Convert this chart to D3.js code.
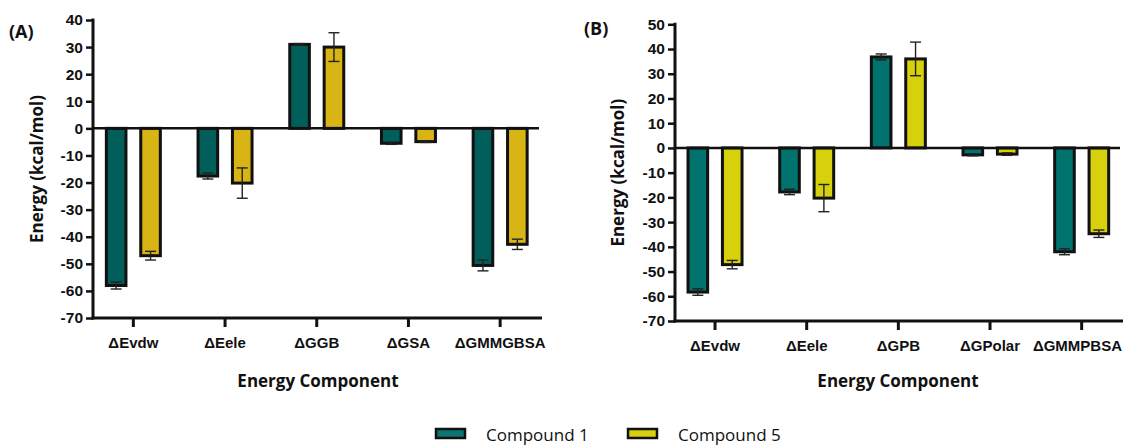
<!DOCTYPE html>
<html>
<head>
<meta charset="utf-8">
<script src="https://cdn.jsdelivr.net/npm/d3@7"></script>
<style>
  body { margin: 0; background: #fff; }
  svg { display: block; font-family: "Open Sans", sans-serif; }
  .tick-label { font-weight: 700; font-size: 15.5px; fill: #111; }
  .cat-label { font-weight: 700; font-size: 15px; fill: #111; }
  .axis-title { font-weight: 700; font-size: 17px; fill: #111; }
</style>
</head>
<body>
<svg width="1123" height="446"></svg>
<script>
const seriesNames = ["Compound 1", "Compound 5"];

const categoriesA = ["ΔEvdw", "ΔEele", "ΔGGB", "ΔGSA", "ΔGMMGBSA"];
const compound1A = [-58, -17.6, 31, -5.5, -50.6];
const compound1ErrA = [1.3, 1.1, 0.3, 0.4, 2];
const compound5A = [-47, -20.2, 30, -4.9, -42.8];
const compound5ErrA = [1.6, 5.6, 5.3, 0.3, 1.9];
const yTicksA = [40, 30, 20, 10, 0, -10, -20, -30, -40, -50, -60, -70];

const categoriesB = ["ΔEvdw", "ΔEele", "ΔGPB", "ΔGPolar", "ΔGMMPBSA"];
const compound1B = [-58.3, -17.8, 36.8, -2.8, -42];
const compound1ErrB = [1.3, 1.1, 1.2, 0.4, 1.2];
const compound5B = [-47.2, -20.3, 36, -2.5, -34.7];
const compound5ErrB = [1.7, 5.5, 6.8, 0.5, 1.5];
const yTicksB = [50, 40, 30, 20, 10, 0, -10, -20, -30, -40, -50, -60, -70];

const svg = d3.select("svg");

const panels = [
    {
        label: "(A)", labelX: 9, labelY: 38,
        cats: categoriesA, vals: [compound1A, compound5A], errs: [compound1ErrA, compound5ErrA],
        ticks: yTicksA, yTop: 20, yBottom: 318,
        axisX: 93, axisEnd: 542, bandRange: [87.5, 546],
        colors: ["#005f5b", "#d8b415"],
        titleX: 318, yTitleX: 43
    },
    {
        label: "(B)", labelX: 584, labelY: 35,
        cats: categoriesB, vals: [compound1B, compound5B], errs: [compound1ErrB, compound5ErrB],
        ticks: yTicksB, yTop: 24.3, yBottom: 321,
        axisX: 675, axisEnd: 1123, bandRange: [669.2, 1127.5],
        colors: ["#00736f", "#d7d00c"],
        titleX: 898, yTitleX: 624
    }
];

panels.forEach(p => {
    const g = svg.append("g");
    const y = d3.scaleLinear()
        .domain([d3.min(p.ticks), d3.max(p.ticks)])
        .range([p.yBottom, p.yTop]);
    const x = d3.scaleBand().domain(p.cats).range(p.bandRange);
    const inner = d3.scaleBand().domain(seriesNames).range([-27, 27]).paddingInner(0.43);

    // bars
    const rows = [];
    p.cats.forEach((c, i) => {
        seriesNames.forEach((s, j) => {
            rows.push({ cat: c, s: s, j: j, v: p.vals[j][i], e: p.errs[j][i] });
        });
    });

    g.selectAll(".bar")
        .data(rows)
        .enter().append("rect")
        .attr("class", "bar")
        .attr("x", d => x(d.cat) + x.bandwidth() / 2 + inner(d.s))
        .attr("width", inner.bandwidth())
        .attr("y", d => Math.min(y(d.v), y(0)))
        .attr("height", d => Math.abs(y(d.v) - y(0)))
        .attr("fill", d => p.colors[d.j])
        .attr("stroke", "#111")
        .attr("stroke-width", 3);

    // error bars
    const eb = g.selectAll(".err")
        .data(rows)
        .enter().append("g")
        .attr("class", "err")
        .attr("transform", d => `translate(${x(d.cat) + x.bandwidth() / 2 + inner(d.s) + inner.bandwidth() / 2},0)`)
        .attr("stroke", "#222")
        .attr("stroke-width", 1.4);
    eb.append("line")
        .attr("y1", d => y(d.v + d.e)).attr("y2", d => y(d.v - d.e));
    eb.append("line").attr("x1", -5.5).attr("x2", 5.5)
        .attr("y1", d => y(d.v + d.e)).attr("y2", d => y(d.v + d.e));
    eb.append("line").attr("x1", -5.5).attr("x2", 5.5)
        .attr("y1", d => y(d.v - d.e)).attr("y2", d => y(d.v - d.e));

    // zero line
    g.append("line")
        .attr("x1", p.axisX).attr("x2", p.axisEnd - 3)
        .attr("y1", y(0)).attr("y2", y(0))
        .attr("stroke", "#111").attr("stroke-width", 2.5);

    // y axis
    const yAxis = g.append("g")
        .attr("transform", `translate(${p.axisX},0)`)
        .call(d3.axisLeft(y).tickValues(p.ticks).tickFormat(d => String(d))
            .tickSize(7).tickPadding(3).tickSizeOuter(0));
    yAxis.select(".domain").remove();
    yAxis.selectAll(".tick line").attr("stroke", "#111").attr("stroke-width", 2.5);
    yAxis.selectAll(".tick text").attr("class", "tick-label").attr("font-family", null).attr("font-size", null);
    g.append("line")
        .attr("x1", p.axisX).attr("x2", p.axisX)
        .attr("y1", p.yTop - 1.5).attr("y2", p.yBottom + 1.5)
        .attr("stroke", "#111").attr("stroke-width", 3);

    // x axis
    const xAxis = g.append("g")
        .attr("transform", `translate(0,${p.yBottom})`)
        .call(d3.axisBottom(x).tickSize(9).tickPadding(10).tickSizeOuter(0));
    xAxis.select(".domain").remove();
    xAxis.selectAll(".tick line").attr("stroke", "#111").attr("stroke-width", 3);
    xAxis.selectAll(".tick text").attr("class", "cat-label").attr("font-family", null).attr("font-size", null);
    // last label of panel B sits against the page edge
    xAxis.selectAll(".tick text")
        .filter(d => x(d) + x.bandwidth() / 2 + 45 > 1123)
        .attr("text-anchor", "end")
        .attr("x", d => 1122 - (x(d) + x.bandwidth() / 2));
    g.append("line")
        .attr("x1", p.axisX - 1.5).attr("x2", p.axisEnd)
        .attr("y1", p.yBottom).attr("y2", p.yBottom)
        .attr("stroke", "#111").attr("stroke-width", 3);

    // titles
    g.append("text").attr("class", "axis-title")
        .attr("x", p.titleX).attr("y", 387)
        .attr("text-anchor", "middle")
        .text("Energy Component");
    g.append("text").attr("class", "axis-title")
        .attr("transform", `translate(${p.yTitleX},${(p.yTop + p.yBottom) / 2}) rotate(-90)`)
        .attr("text-anchor", "middle")
        .text("Energy (kcal/mol)");
    g.append("text")
        .attr("x", p.labelX).attr("y", p.labelY)
        .attr("font-weight", 700).attr("font-size", 18).attr("fill", "#111")
        .text(p.label);
});

// legend
const legendColors = ["#0a7571", "#d6cf0a"];
const legend = svg.append("g");
const lx = d3.scalePoint().domain(seriesNames).range([436, 628]);
const item = legend.selectAll(".item")
    .data(seriesNames)
    .enter().append("g")
    .attr("transform", d => `translate(${lx(d)},0)`);
item.append("rect")
    .attr("x", 0).attr("y", 429).attr("width", 29).attr("height", 9)
    .attr("fill", (d, i) => legendColors[i])
    .attr("stroke", "#111").attr("stroke-width", 2.5);
item.append("text")
    .attr("x", 50).attr("y", 441)
    .attr("font-size", 17).attr("fill", "#111")
    .text(d => d);
</script>
</body>
</html>
